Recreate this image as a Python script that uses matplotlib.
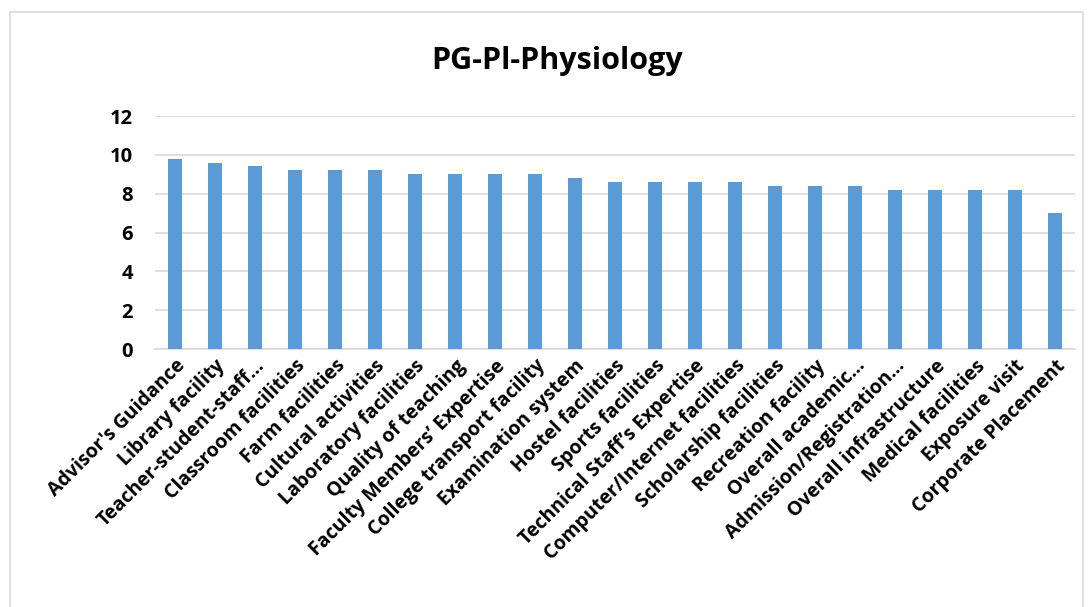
import matplotlib
matplotlib.use("Agg")
import matplotlib.pyplot as plt
from matplotlib.patches import Rectangle

categories = ["Advisor's Guidance", "Library facility", "Teacher-student-staff…",
              "Classroom facilities", "Farm facilities", "Cultural activities",
              "Laboratory facilities", "Quality of teaching", "Faculty Members’ Expertise",
              "College transport facility", "Examination system", "Hostel facilities",
              "Sports facilities", "Technical Staff’s Expertise", "Computer/Internet facilities",
              "Scholarship facilities", "Recreation facility", "Overall academic…",
              "Admission/Registration…", "Overall infrastructure", "Medical facilities",
              "Exposure visit", "Corporate Placement"]
values = [9.8, 9.6, 9.4, 9.2, 9.2, 9.2, 9.0, 9.0, 9.0, 9.0, 8.8, 8.6, 8.6, 8.6, 8.6,
          8.4, 8.4, 8.4, 8.2, 8.2, 8.2, 8.2, 7.0]
yticks = [0, 2, 4, 6, 8, 10, 12]
title = "PG-Pl-Physiology"

plt.rcParams['font.family'] = ['Open Sans', 'DejaVu Sans']

fig = plt.figure(figsize=(10.89, 6.07), dpi=100)
ax = fig.add_axes([155/1089, 1-349/607, (1075-155)/1089, (349-116)/607])

x = list(range(len(categories)))
ax.bar(x, values, width=0.33, color='#5B9BD5', zorder=3)
ax.set_xlim(-0.5, len(categories)-0.5)
ax.set_ylim(0, 12)
ax.set_yticks(yticks)
ax.set_yticklabels([str(t) for t in yticks], fontsize=14.5, fontweight='bold')
ax.set_xticks(x)
ax.set_xticklabels(categories, rotation=45, ha='right', rotation_mode='anchor',
                   fontsize=14, fontweight='bold')
ax.tick_params(axis='both', length=0, pad=5)
ax.tick_params(axis='y', pad=16)
ax.grid(axis='y', color='#D9D9D9', linewidth=1.2, zorder=0)
for s in ['top', 'right', 'left']:
    ax.spines[s].set_visible(False)
ax.spines['bottom'].set_color('#D9D9D9')
ax.spines['bottom'].set_linewidth(1.2)

fig.text(557/1089, 1-69/607, title, ha='center', va='baseline', fontsize=22, fontweight='bold')

fig.patches.append(Rectangle((10/1089, -0.05), (1083-10)/1089, 1-12/607+0.05,
                             transform=fig.transFigure, fill=False,
                             edgecolor='#D9D9D9', linewidth=1.2))

fig.savefig('out.png', dpi=100)
